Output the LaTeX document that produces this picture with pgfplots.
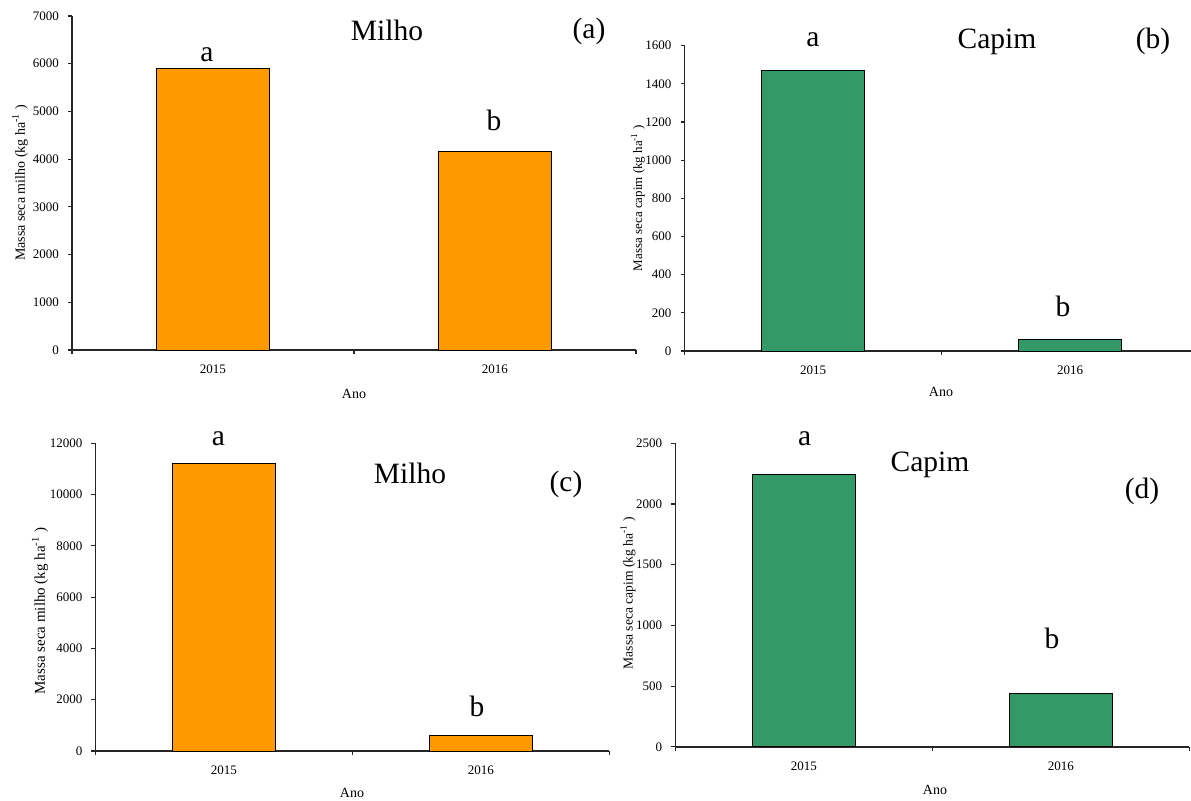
\documentclass[border=0pt]{standalone}
\usepackage{fontspec}
\setmainfont{Liberation Serif}
\usepackage{pgfplots}
\pgfplotsset{compat=1.18}
\definecolor{milho}{RGB}{255,153,0}
\definecolor{capim}{RGB}{51,153,102}
\pgfplotsset{
  painel/.style={
    scale only axis, anchor=south west,
    axis lines=left,
    axis line style={-, line width=0.7pt, black!85},
    every outer x axis line/.append style={-},
    every outer y axis line/.append style={-},
    xmin=0, xmax=2, ymin=0,
    enlargelimits=false,
    scaled y ticks=false,
    xtick={0,1,2}, xticklabels={,,},
    extra x ticks={0.5,1.5}, extra x tick labels={2015,2016},
    extra x tick style={major tick length=0pt, xticklabel style={yshift=-4pt}},
    tick align=outside, major tick length=2pt,
    tick style={black!85, line width=0.6pt},
    /pgf/number format/1000 sep={},
    /pgf/number format/assume math mode=true,
    ticklabel style={font=\fontsize{6.5}{7}\selectfont},
    yticklabel style={xshift=-1pt},
    clip=false,
  }
}
\newcommand\bigtxt{\fontsize{14.75}{16}\selectfont}
\newcommand\lab{\fontsize{7}{8}\selectfont}
\begin{document}
\begin{tikzpicture}
\path[use as bounding box] (0,0) rectangle (595.5pt,-400pt);
% (a)
\begin{axis}[painel, at={(36pt,-175pt)}, width=282pt, height=167pt,
  ymax=7000, ytick={0,1000,...,7000}]
\addplot[ybar, bar width=0.4, fill=milho, draw=black, line width=0.5pt]
  coordinates {(0.5,5910) (1.5,4170)};
\end{axis}
% (b)
\begin{axis}[painel, at={(342.25pt,-175.5pt)}, width=257pt, height=152.65pt,
  ymax=1600, ytick={0,200,...,1600}]
\addplot[ybar, bar width=0.4, fill=capim, draw=black, line width=0.5pt]
  coordinates {(0.5,1470) (1.5,61)};
\end{axis}
% (c)
\begin{axis}[painel, at={(47.75pt,-375.5pt)}, width=257pt, height=153.85pt,
  ymax=12000, ytick={0,2000,...,12000}]
\addplot[ybar, bar width=0.4, fill=milho, draw=black, line width=0.5pt]
  coordinates {(0.5,11200) (1.5,620)};
\end{axis}
% (d)
\begin{axis}[painel, at={(337.65pt,-373.4pt)}, width=257pt, height=151.75pt,
  ymax=2500, ytick={0,500,...,2500}]
\addplot[ybar, bar width=0.4, fill=capim, draw=black, line width=0.5pt]
  coordinates {(0.5,2245) (1.5,443)};
\end{axis}
\begin{scope}[x=0.5pt,y=-0.5pt, every node/.style={inner sep=0pt}]
% (a)
\node[anchor=base] at (387,40) {\bigtxt Milho};
\node[anchor=base] at (589,38) {\bigtxt (a)};
\node[anchor=base] at (207,61.7) {\bigtxt a};
\node[anchor=base] at (494,130) {\bigtxt b};
\node[rotate=90] at (20,183) {\lab Massa seca milho (kg ha\textsuperscript{-1} )};
\node[anchor=base] at (354,398) {\lab Ano};
% (b)
\node[anchor=base] at (997,48.3) {\bigtxt Capim};
\node[anchor=base] at (1153,48) {\bigtxt (b)};
\node[anchor=base] at (813,46.7) {\bigtxt a};
\node[anchor=base] at (1063,316.7) {\bigtxt b};
\node[rotate=90] at (638,198) {\fontsize{6.5}{7.5}\selectfont Massa seca capim (kg ha\textsuperscript{-1} )};
\node[anchor=base] at (941,396) {\lab Ano};
% (c)
\node[anchor=base] at (410,483) {\bigtxt Milho};
\node[anchor=base] at (566,491) {\bigtxt (c)};
\node[anchor=base] at (218.5,445) {\bigtxt a};
\node[anchor=base] at (477,716.7) {\bigtxt b};
\node[rotate=90] at (40,611) {\fontsize{7.5}{8.5}\selectfont Massa seca milho (kg ha\textsuperscript{-1} )};
\node[anchor=base] at (352,797) {\lab Ano};
% (d)
\node[anchor=base] at (930,471) {\bigtxt Capim};
\node[anchor=base] at (1142,498) {\bigtxt (d)};
\node[anchor=base] at (804.7,445) {\bigtxt a};
\node[anchor=base] at (1052,648) {\bigtxt b};
\node[rotate=90] at (628,593) {\fontsize{6.8}{7.8}\selectfont Massa seca capim (kg ha\textsuperscript{-1} )};
\node[anchor=base] at (935,794) {\lab Ano};
\end{scope}
\end{tikzpicture}
\end{document}
